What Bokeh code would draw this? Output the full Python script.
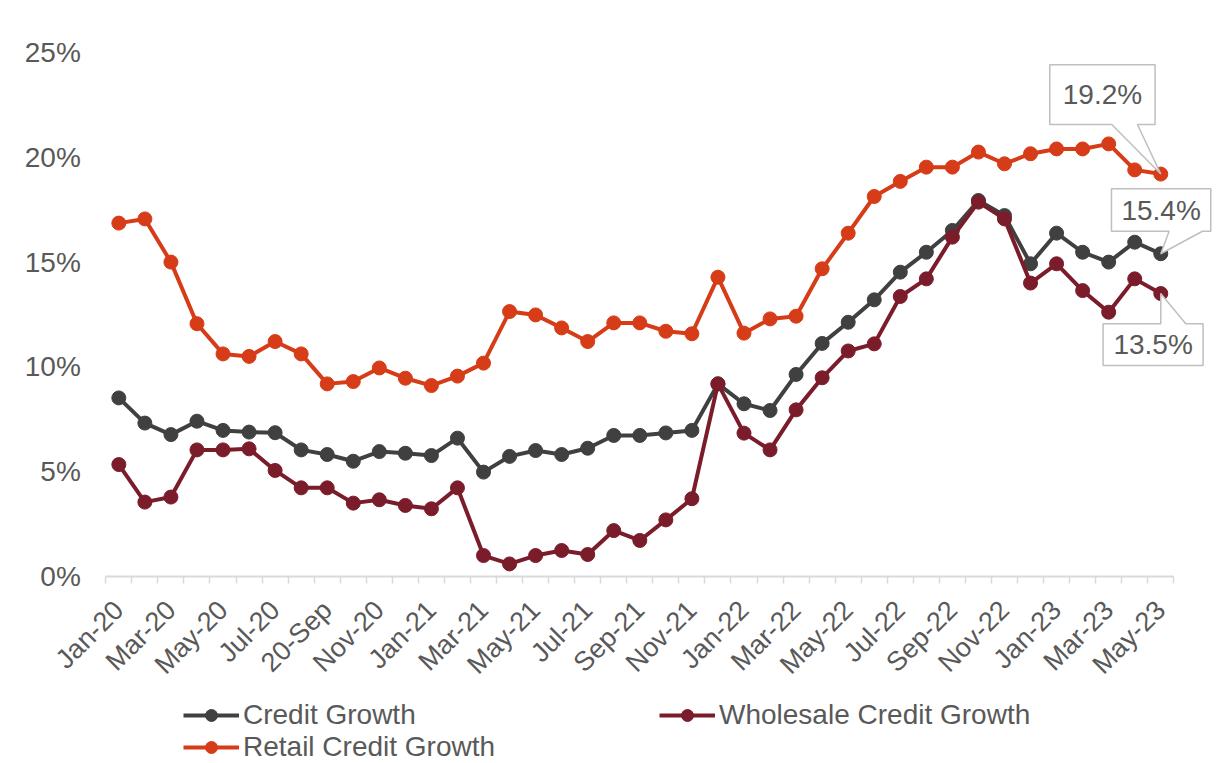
import math
from bokeh.plotting import figure
from bokeh.models import Range1d, FixedTicker, Legend, LegendItem, Label
from bokeh.embed import file_html
from bokeh.resources import INLINE

# ---------------- data ----------------
months = ["Jan-20", "Feb-20", "Mar-20", "Apr-20", "May-20", "Jun-20", "Jul-20", "Aug-20", "20-Sep", "Oct-20", "Nov-20", "Dec-20",
          "Jan-21", "Feb-21", "Mar-21", "Apr-21", "May-21", "Jun-21", "Jul-21", "Aug-21", "Sep-21", "Oct-21", "Nov-21", "Dec-21",
          "Jan-22", "Feb-22", "Mar-22", "Apr-22", "May-22", "Jun-22", "Jul-22", "Aug-22", "Sep-22", "Oct-22", "Nov-22", "Dec-22",
          "Jan-23", "Feb-23", "Mar-23", "Apr-23", "May-23"]

credit_growth = [8.52, 7.32, 6.77, 7.41, 6.97, 6.89, 6.86, 6.04, 5.82, 5.50, 5.96, 5.88, 5.77, 6.60,
                 4.98, 5.73, 6.01, 5.82, 6.12, 6.73, 6.73, 6.85, 6.97,
                 9.19, 8.24, 7.92, 9.64, 11.12, 12.13,
                 13.20, 14.52, 15.47, 16.51, 17.94, 17.22, 14.92, 16.38, 15.47, 15.00, 15.95, 15.4]

retail_growth = [16.86, 17.06, 15.00, 12.06, 10.62, 10.50, 11.21, 10.62, 9.19, 9.30, 9.95, 9.46, 9.11, 9.56,
                 10.18, 12.64, 12.48, 11.86, 11.21, 12.10, 12.10, 11.70, 11.58,
                 14.28, 11.61, 12.29, 12.42, 14.68, 16.38,
                 18.13, 18.85, 19.53, 19.53, 20.25, 19.69, 20.17, 20.40, 20.40, 20.64, 19.40, 19.2]

wholesale_growth = [5.34, 3.55, 3.79, 6.04, 6.04, 6.09, 5.06, 4.23, 4.23, 3.50, 3.66, 3.39, 3.23, 4.23,
                    1.00, 0.60, 1.00, 1.24, 1.05, 2.19, 1.72, 2.70, 3.71,
                    9.19, 6.84, 6.04, 7.95, 9.48, 10.76,
                    11.10, 13.36, 14.20, 16.19, 17.86, 17.06, 14.00, 14.92, 13.64, 12.61, 14.20, 13.5]

y_ticks = [0, 5, 10, 15, 20, 25]
y_tick_labels = ["0%", "5%", "10%", "15%", "20%", "25%"]

# ---------------- layout ----------------
# The plotting frame covers the whole canvas; both axes are pinned inside it.
W, H = 1222, 763
AX_LEFT, AX_TOP = 105.3, 52.0      # pixel position of the plot area's left / top edge
N = len(months)
PXX = 1068.0 / N                   # px per category
PXY = 524.0 / 25.0                 # px per percent
x_start = -0.5 - AX_LEFT / PXX
x_end = x_start + W / PXX
y_end = 25 + AX_TOP / PXY
y_start = y_end - H / PXY

TEXT = "#595959"
FONT = "Liberation Sans"
GRAY = "#404040"
ORANGE = "#D63C17"
MAROON = "#7B1C2A"

x = list(range(N))

p = figure(width=W, height=H, x_range=Range1d(x_start, x_end), y_range=Range1d(y_start, y_end),
           output_backend="svg", toolbar_location=None,
           min_border_left=0, min_border_right=0, min_border_top=0, min_border_bottom=0)
p.outline_line_color = None
p.xgrid.visible = False
p.ygrid.visible = False

# x axis
xa = p.xaxis[0]
xa.fixed_location = 0
xa.ticker = FixedTicker(ticks=list(range(0, N, 2)), minor_ticks=[i - 0.5 for i in range(N + 1)])
xa.major_label_overrides = {i: months[i] for i in range(0, N, 2)}
xa.bounds = (-0.5, N - 0.5)
xa.axis_line_color = "#D9D9D9"
xa.axis_line_width = 2
xa.major_tick_out = 0
xa.major_tick_in = 0
xa.minor_tick_out = 7
xa.minor_tick_in = 0
xa.minor_tick_line_color = "#D9D9D9"
xa.minor_tick_line_width = 1.5
xa.major_label_orientation = math.pi / 4
xa.major_label_standoff = 22
xa.major_label_text_font = FONT
xa.major_label_text_font_size = "27px"
xa.major_label_text_color = TEXT

# y axis
ya = p.yaxis[0]
ya.fixed_location = -0.5
ya.ticker = FixedTicker(ticks=y_ticks, minor_ticks=[])
ya.major_label_overrides = {t: l for t, l in zip(y_ticks, y_tick_labels)}
ya.axis_line_color = None
ya.major_tick_out = 0
ya.major_tick_in = 0
ya.minor_tick_out = 0
ya.minor_tick_in = 0
ya.major_label_standoff = 25
ya.major_label_text_font = FONT
ya.major_label_text_font_size = "28px"
ya.major_label_text_color = TEXT

# series
l1 = p.line(x, credit_growth, line_color=GRAY, line_width=4)
s1 = p.scatter(x, credit_growth, size=14, fill_color=GRAY, line_color=GRAY)
l2 = p.line(x, retail_growth, line_color=ORANGE, line_width=4)
s2 = p.scatter(x, retail_growth, size=14, fill_color=ORANGE, line_color=ORANGE)
l3 = p.line(x, wholesale_growth, line_color=MAROON, line_width=4)
s3 = p.scatter(x, wholesale_growth, size=14, fill_color=MAROON, line_color=MAROON)

# callouts (shape offsets in px relative to the last data point)
callouts = [
    (retail_growth[-1], [(-111, 109.3), (-5.7, 109.3), (-5.7, 49.6), (-23.3, 49.6), (0, 0), (-49, 49.6), (-111, 49.6)], (-58.3, 79.5)),
    (credit_growth[-1], [(-49.3, 64.9), (50, 64.9), (50, 22.5), (41.7, 22.5), (0, 0), (8.3, 22.5), (-49.3, 22.5)], (0.3, 43.7)),
    (wholesale_growth[-1], [(-57.7, -30.3), (0, -30.3), (0, 0), (25, -30.3), (42.3, -30.3), (42.3, -72), (-57.7, -72)], (-7.7, -51.2)),
]
last = N - 1
for v, shape, (cx, cy) in callouts:
    xs = [last + dx / PXX for dx, dy in shape]
    ys = [v + dy / PXY for dx, dy in shape]
    p.patch(xs, ys, fill_color="white", line_color="#BFBFBF", line_width=1.5)
    p.add_layout(Label(x=last + cx / PXX, y=v + cy / PXY, text=f"{v:.1f}%", text_align="center",
                       text_baseline="middle", text_font=FONT, text_font_size="28px", text_color=TEXT))

# legends
def make_legend(items, loc):
    return Legend(items=items, location=loc, orientation="vertical",
                  border_line_color=None, background_fill_alpha=0, padding=0, margin=0, spacing=0,
                  label_standoff=4, glyph_width=56, glyph_height=30, label_height=30,
                  label_text_font=FONT, label_text_font_size="28px", label_text_color=TEXT)

leg1 = make_legend([LegendItem(label="Credit Growth", renderers=[l1, s1]),
                    LegendItem(label="Retail Credit Growth", renderers=[l2, s2])], (183, 0))
leg2 = make_legend([LegendItem(label="Wholesale Credit Growth", renderers=[l3, s3])], (659, 32))
p.add_layout(leg1)
p.add_layout(leg2)

open("out.html", "w").write(file_html(p, INLINE))
